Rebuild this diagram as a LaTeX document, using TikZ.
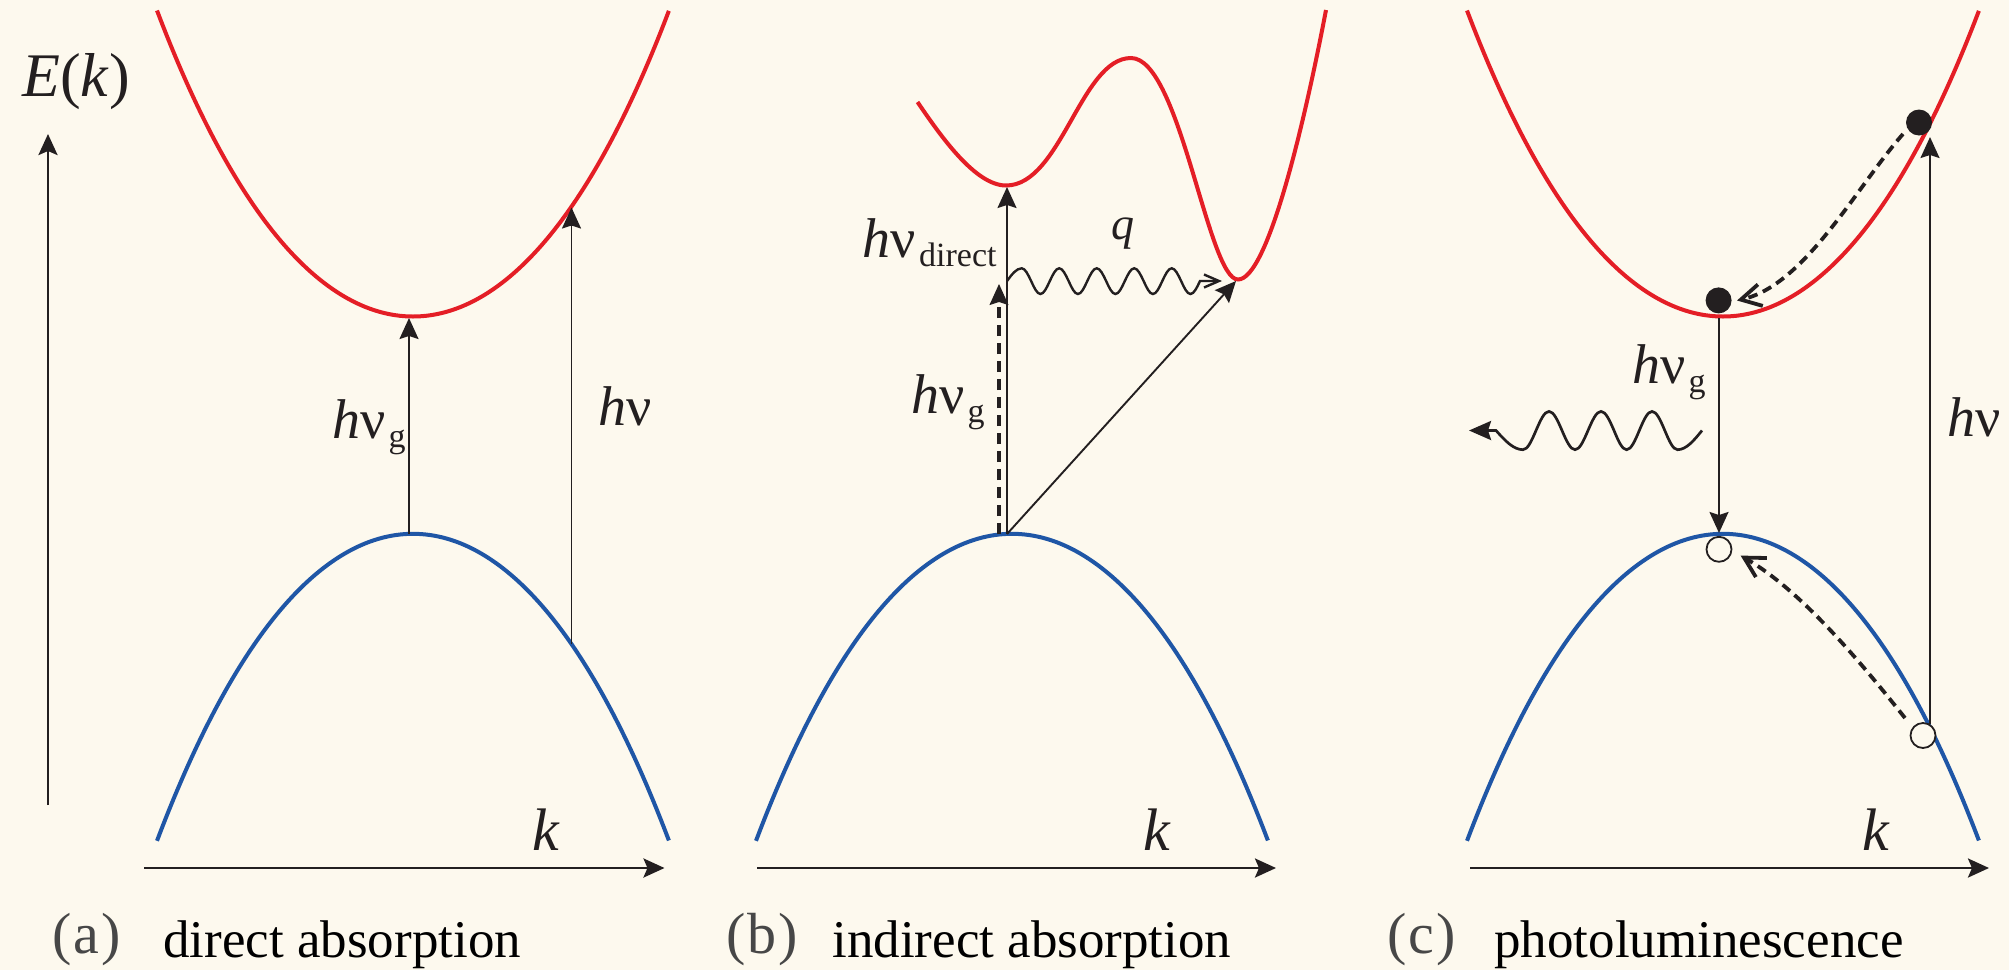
\documentclass[tikz,border=0pt]{standalone}
\usepackage{fontspec}
\setmainfont{Liberation Serif}
\usetikzlibrary{arrows.meta}
\definecolor{bg}{HTML}{FDF9EE}
\definecolor{cbred}{HTML}{E41E26}
\definecolor{vbblue}{HTML}{1F56A6}
\definecolor{ink}{HTML}{231F20}
\newcommand{\hnusub}[1]{\textit{h}ν\kern1.5pt\raisebox{-4.5pt}{\fontsize{17}{18}\selectfont #1}}
\begin{document}
\begin{tikzpicture}[x=0.5pt,y=-0.5pt,
  bandline/.style={line width=2pt},
  axisarr/.style={draw=ink, line width=1.4pt, -{Stealth[length=10.5pt,width=9.5pt,inset=2pt]}},
  transarr/.style={draw=ink, line width=0.95pt, -{Stealth[length=10.5pt,width=9.5pt,inset=1.5pt]}},
  dasharr/.style={draw=ink, line width=1.7pt, dash pattern=on 5.5pt off 3.5pt, -{Stealth[length=10.5pt,width=9.5pt,inset=1.5pt,line width=0.6pt]}},
  relaxarr/.style={draw=ink, line width=1.9pt, dash pattern=on 4.8pt off 3pt, -{Straight Barb[length=10pt,width=11pt,line width=1.9pt]}},
  phononarr/.style={draw=ink, line width=1.2pt, -{Straight Barb[length=7.5pt,width=6.5pt]}},
  photonarr/.style={draw=ink, line width=1.35pt, {Stealth[length=11pt,width=9.5pt,inset=1.5pt]}-},
  edot/.style={circle, fill=ink, inner sep=0pt, minimum size=13pt},
  holedot/.style={circle, draw=ink, fill=bg, line width=0.9pt, inner sep=0pt, minimum size=12.5pt},
  mlab/.style={inner sep=0pt, text=ink, font=\fontsize{28}{30}\selectfont},
  klab/.style={inner sep=0pt, anchor=base, text=ink, font=\fontsize{30}{32}\selectfont\itshape},
  captxt/.style={anchor=base west, inner sep=0pt, text=black, font=\fontsize{26.5}{28}\selectfont},
  tagtxt/.style={anchor=base west, inner sep=0pt, text=black!72, font=\fontsize{29}{30}\selectfont}
]
\fill[bg] (0,0) rectangle (2009,970);
\useasboundingbox (0,0) rectangle (2009,970);

% ---------- bands ----------
% (a)
\draw[cbred, bandline] plot[domain=-1:1, samples=121, smooth] ({413+256*\x}, {316.5-306*(0.898*\x*\x+0.102*\x*\x*\x*\x)});
\draw[vbblue, bandline] plot[domain=-1:1, samples=121, smooth] ({413+256*\x}, {533.8+307*(0.898*\x*\x+0.102*\x*\x*\x*\x)});
% (b)
\draw[cbred, bandline] (917.5,102) .. controls (940,135) and (975,185.5) .. (1006,185.5)
  .. controls (1061,185.5) and (1081,58) .. (1131,58)
  .. controls (1180,58) and (1208,279.5) .. (1238,279.5)
  .. controls (1268,279.5) and (1305,120) .. (1326,10);
\draw[vbblue, bandline] plot[domain=-1:1, samples=121, smooth] ({1012+256*\x}, {533.8+307*(0.898*\x*\x+0.102*\x*\x*\x*\x)});
% (c)
\draw[cbred, bandline] plot[domain=-1:1, samples=121, smooth] ({1723+256*\x}, {316.5-306*(0.898*\x*\x+0.102*\x*\x*\x*\x)});
\draw[vbblue, bandline] plot[domain=-1:1, samples=121, smooth] ({1723+256*\x}, {533.8+307*(0.898*\x*\x+0.102*\x*\x*\x*\x)});

% ---------- axes ----------
\coordinate (Ebot) at (48,805);  \coordinate (Etop) at (48,134);
\draw[axisarr] (Ebot) -- (Etop);
\node[inner sep=0pt, anchor=base, text=ink, font=\fontsize{31}{32}\selectfont] (Ek) at (76,96) {\textit{E}(\textit{k})};
\coordinate (ka0) at (144,868);  \coordinate (ka1) at (664.5,868);
\coordinate (kb0) at (757,868);  \coordinate (kb1) at (1276,868);
\coordinate (kc0) at (1470,868); \coordinate (kc1) at (1989,868);
\draw[axisarr] (ka0) -- (ka1);
\draw[axisarr] (kb0) -- (kb1);
\draw[axisarr] (kc0) -- (kc1);
\node[klab] (ka) at (546,850) {k};
\node[klab] (kb) at (1157,850) {k};
\node[klab] (kc) at (1876,850) {k};

% ---------- (a) direct absorption ----------
\coordinate (aV) at (409,534);   \coordinate (aC) at (409,318);
\coordinate (aVk) at (571.5,644); \coordinate (aCk) at (571.5,207.5);
\draw[transarr] (aV) -- (aC);
\draw[transarr] (aVk) -- (aCk);
\node[mlab, anchor=base east] (hvga) at (406,438) {\hnusub{g}};
\node[mlab, anchor=base west] (hva) at (598,425) {\textit{h}ν};

% ---------- (b) indirect absorption ----------
\coordinate (bV) at (1007,534);  \coordinate (bC) at (1007,187);
\coordinate (bVd) at (999,534);  \coordinate (bD) at (999,284);
\coordinate (bCi) at (1236,281);
\coordinate (bQ0) at (1007,281); \coordinate (bQ1) at (1222,281);
\draw[transarr] (bV) -- (bC);
\draw[dasharr] (bVd) -- (bD);
\draw[transarr] (bV) -- (bCi);
\draw[phononarr] (bQ0) sin (1021.7,268.3)
  cos (1031.1,281) sin (1040.45,294) cos (1049.8,281) sin (1059.2,268.3)
  cos (1068.6,281) sin (1077.95,294) cos (1087.3,281) sin (1096.7,268.3)
  cos (1106.1,281) sin (1115.45,294) cos (1124.8,281) sin (1134.2,268.3)
  cos (1143.6,281) sin (1152.95,294) cos (1162.3,281) sin (1171.7,268.3)
  cos (1181.1,281) sin (1190.45,294) cos (1200,281) -- (bQ1);
\node[mlab, anchor=base east] (hvdb) at (997,257) {\hnusub{direct}};
\node[mlab, anchor=base east] (hvgb) at (985,413) {\hnusub{g}};
\node[inner sep=0pt, anchor=base, text=ink, font=\fontsize{23}{24}\selectfont\itshape] (qb) at (1123,239) {q};

% ---------- (c) photoluminescence ----------
\coordinate (cC) at (1719,318);  \coordinate (cV) at (1719,533);
\coordinate (cVk) at (1930,724); \coordinate (cCk) at (1930,137);
\draw[transarr] (cC) -- (cV);
\draw[transarr] (cVk) -- (cCk);
\node[edot] (e1) at (1919,122.5) {};
\node[edot] (e0) at (1718.6,300.4) {};
\node[holedot] (h1) at (1923,735.5) {};
\node[holedot] (h0) at (1719,549.3) {};
\coordinate (r1s) at (1903,134);   \coordinate (r1e) at (1737,300.5);
\coordinate (r2s) at (1905,718);   \coordinate (r2e) at (1740.6,555.6);
\draw[relaxarr] (r1s) .. controls (1856.8,186.5) and (1805,285) .. (r1e);
\draw[relaxarr] (r2s) .. controls (1861.6,663.4) and (1801.5,590.6) .. (r2e);
\coordinate (pt) at (1469,430.5);
\draw[photonarr] (pt) -- (1496,430.5) sin (1523,449.7) cos (1536,430.5) sin (1549,411.4)
  cos (1562,430.5) sin (1575,449.7) cos (1588,430.5) sin (1601,411.4)
  cos (1614,430.5) sin (1626.6,449.7) cos (1639.3,430.5) sin (1652,411.4)
  cos (1664.8,430.5) sin (1677.5,449.7) cos (1702,430.5);
\node[mlab, anchor=base east] (hvgc) at (1706,383) {\hnusub{g}};
\node[mlab, anchor=base west] (hvc) at (1947,436) {\textit{h}ν};

% ---------- captions ----------
\node[tagtxt] (ta) at (52,953) {(\kern1pt a\kern1pt)};
\node[captxt] (ca) at (163,957) {direct absorption};
\node[tagtxt] (tb) at (726,953) {(\kern1pt b\kern1pt)};
\node[captxt] (cb) at (832,957) {indirect absorption};
\node[tagtxt] (tc) at (1387,953) {(\kern1pt c\kern1pt)};
\node[captxt] (cc) at (1494,957) {photoluminescence};
\end{tikzpicture}
\end{document}
